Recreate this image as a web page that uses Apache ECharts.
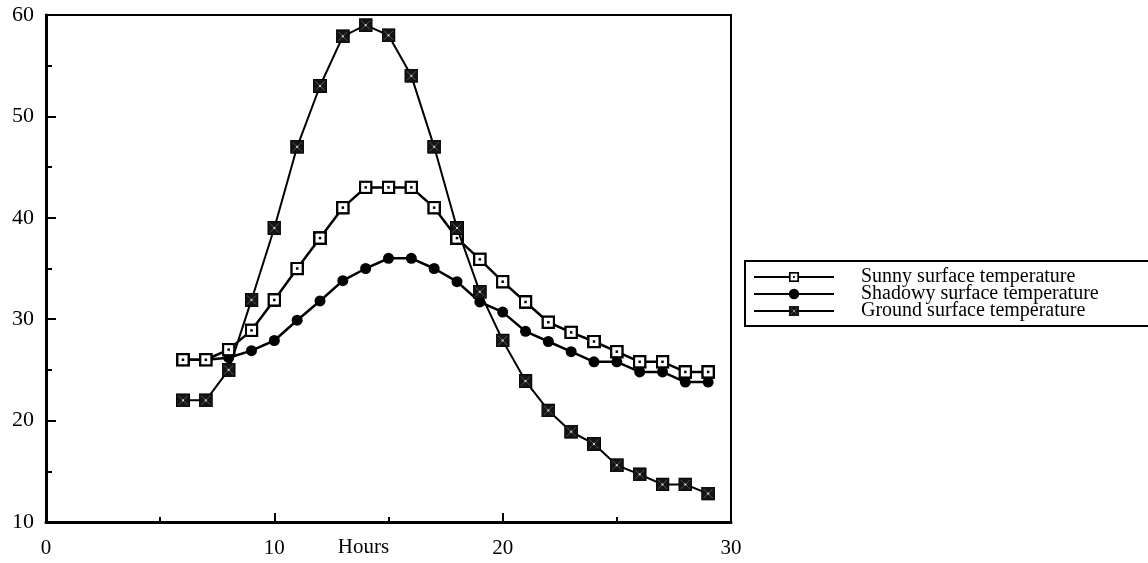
<!DOCTYPE html>
<html>
<head>
<meta charset="utf-8">
<script src="https://cdn.jsdelivr.net/npm/echarts@6/dist/echarts.min.js"></script>
<style>
html,body{margin:0;padding:0;background:#fff;}
#chart{width:1148px;height:563px;}
</style>
</head>
<body>
<div id="chart"></div>
<script>
var hours   = [6,7,8,9,10,11,12,13,14,15,16,17,18,19,20,21,22,23,24,25,26,27,28,29];
var sunny   = [26,26,27,28.9,31.9,35,38,41,43,43,43,41,38,35.9,33.7,31.7,29.7,28.7,27.8,26.8,25.8,25.8,24.8,24.8];
var shadowy = [26,26,26.2,26.9,27.9,29.9,31.8,33.8,35,36,36,35,33.7,31.7,30.7,28.8,27.8,26.8,25.8,25.8,24.8,24.8,23.8,23.8];
var ground  = [22,22,25,31.9,39,47,53,57.9,59,58,54,47,39,32.7,27.9,23.9,21,18.9,17.7,15.6,14.7,13.7,13.7,12.8];
var xTicks  = [0,10,20,30];
var yTicks  = [10,20,30,40,50,60];
var names   = ['Sunny surface temperature','Shadowy surface temperature','Ground surface temperature'];

function pairs(ys){ return hours.map(function(h,i){ return [h, ys[i]]; }); }
function svgUri(s){ return 'image://data:image/svg+xml;charset=utf-8,' + encodeURIComponent(s); }

var sunnySym = svgUri('<svg xmlns="http://www.w3.org/2000/svg" width="28" height="28" viewBox="0 0 28 28"><rect x="2.5" y="2.5" width="23" height="23" fill="#fff" stroke="#000" stroke-width="5"/><rect x="11.5" y="11.5" width="5" height="5" fill="#000"/></svg>');
var groundSym = svgUri('<svg xmlns="http://www.w3.org/2000/svg" width="28" height="28" viewBox="0 0 28 28"><rect x="1" y="1" width="26" height="26" fill="#151515" stroke="#000" stroke-width="2"/><path d="M5 5L23 23M23 5L5 23" stroke="#6a6a6a" stroke-width="1.5"/><rect x="12" y="12" width="4" height="4" fill="#ccc"/></svg>');

var font = '"Liberation Serif", "Times New Roman", serif';
var chart = echarts.init(document.getElementById('chart'), null, {renderer:'canvas'});

chart.setOption({
  animation:false,
  backgroundColor:'#fff',
  grid:{left:46, right:417, top:15, bottom:41, show:true, borderColor:'#000', borderWidth:2,
        containLabel:false, outerBoundsMode:'none'},
  xAxis:{
    type:'value', min:0, max:30, interval:10,
    name:'Hours', nameLocation:'middle', nameGap:15, nameMoveOverlap:false,
    nameTextStyle:{fontFamily:font, fontSize:21, color:'#000', padding:[0,50,0,0]},
    axisLine:{show:true, onZero:false, lineStyle:{color:'#000', width:3}},
    axisTick:{show:true, inside:true, length:9, lineStyle:{color:'#000', width:2}},
    minorTick:{show:true, splitNumber:2, length:5, lineStyle:{color:'#000', width:2}},
    splitLine:{show:false},
    axisLabel:{fontFamily:font, fontSize:21, color:'#000', margin:16,
      formatter:function(v){ return xTicks.indexOf(v)>=0 ? String(v) : ''; }}
  },
  yAxis:{
    type:'value', min:10, max:60, interval:10,
    axisLine:{show:true, onZero:false, lineStyle:{color:'#000', width:3}},
    axisTick:{show:true, inside:true, length:10, lineStyle:{color:'#000', width:2}},
    minorTick:{show:true, splitNumber:2, length:6, lineStyle:{color:'#000', width:2}},
    splitLine:{show:false},
    axisLabel:{fontFamily:font, fontSize:22, color:'#000', margin:12,
      formatter:function(v){ return yTicks.indexOf(v)>=0 ? String(v) : ''; }}
  },
  legend:{
    orient:'vertical', left:745, top:261,
    itemWidth:80, itemHeight:13, itemGap:-3,
    padding:[6,10,5,8],
    borderColor:'#000', borderWidth:2, backgroundColor:'#fff',
    textStyle:{fontFamily:font, fontSize:20, color:'#000', padding:[0,0,0,22], width:290, lineHeight:13},
    data:names
  },
  series:[
    {name:names[0], type:'line', data:pairs(sunny), symbol:sunnySym, symbolSize:14,
      lineStyle:{color:'#000', width:2.5}, itemStyle:{color:'#000'}, z:3},
    {name:names[1], type:'line', data:pairs(shadowy), symbol:'circle', symbolSize:11,
      lineStyle:{color:'#000', width:2.5}, itemStyle:{color:'#000'}, z:2},
    {name:names[2], type:'line', data:pairs(ground), symbol:groundSym, symbolSize:14,
      lineStyle:{color:'#000', width:2}, itemStyle:{color:'#000'}, z:4}
  ]
});
</script>
</body>
</html>
